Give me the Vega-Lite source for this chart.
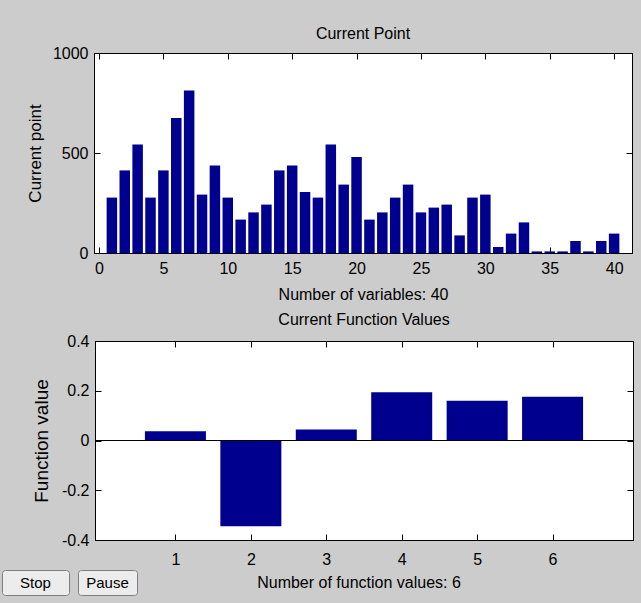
{
  "$schema": "https://vega.github.io/schema/vega-lite/v6.json",
  "background": "#cccccc",
  "padding": {"left": 1, "top": 25, "right": 9, "bottom": 8},
  "spacing": 8,
  "config": {
    "view": {"fill": "white", "stroke": "black", "strokeWidth": 1},
    "axis": {
      "domainColor": "black", "tickColor": "black", "labelColor": "black", "titleColor": "black",
      "labelFont": "Liberation Sans", "labelFontSize": 16,
      "titleFont": "Liberation Sans", "titleFontSize": 16, "titleFontWeight": "normal",
      "grid": false, "tickSize": -6, "labelPadding": 12, "labelFlush": false, "labelOverlap": false
    },
    "title": {"font": "Liberation Sans", "fontSize": 16, "fontWeight": "normal", "color": "black", "offset": 3},
    "text": {"font": "Liberation Sans", "fontSize": 16, "color": "black"}
  },
  "vconcat": [
    {
      "spacing": 0,
      "hconcat": [
        {
          "width": 23, "height": 10,
          "data": {"values": [{"t": ""}]},
          "mark": {"type": "text"},
          "encoding": {"text": {"field": "t"}},
          "view": {"fill": null, "stroke": null}
        },
        {
          "width": 538, "height": 200,
          "title": "Current Point",
          "data": {"values": [
            {"i": 1, "v": 277}, {"i": 2, "v": 413}, {"i": 3, "v": 543}, {"i": 4, "v": 277},
            {"i": 5, "v": 413}, {"i": 6, "v": 675}, {"i": 7, "v": 812}, {"i": 8, "v": 292},
            {"i": 9, "v": 437}, {"i": 10, "v": 277}, {"i": 11, "v": 167}, {"i": 12, "v": 203},
            {"i": 13, "v": 242}, {"i": 14, "v": 413}, {"i": 15, "v": 437}, {"i": 16, "v": 305},
            {"i": 17, "v": 277}, {"i": 18, "v": 543}, {"i": 19, "v": 342}, {"i": 20, "v": 480},
            {"i": 21, "v": 167}, {"i": 22, "v": 203}, {"i": 23, "v": 277}, {"i": 24, "v": 342},
            {"i": 25, "v": 203}, {"i": 26, "v": 227}, {"i": 27, "v": 242}, {"i": 28, "v": 88},
            {"i": 29, "v": 277}, {"i": 30, "v": 292}, {"i": 31, "v": 30}, {"i": 32, "v": 97},
            {"i": 33, "v": 153}, {"i": 34, "v": 8}, {"i": 35, "v": 8}, {"i": 36, "v": 8},
            {"i": 37, "v": 60}, {"i": 38, "v": 8}, {"i": 39, "v": 60}, {"i": 40, "v": 97}
          ]},
          "layer": [
            {
              "mark": {"type": "bar", "color": "#00008f", "size": 10.5},
              "encoding": {
                "x": {"field": "i", "type": "quantitative", "scale": {"domain": [0, 41], "nice": false, "zero": false},
                      "axis": {"values": [0, 5, 10, 15, 20, 25, 30, 35, 40], "title": "Number of variables: 40", "titlePadding": 10, "labelPadding": 13}},
                "y": {"field": "v", "type": "quantitative", "scale": {"domain": [0, 1000], "nice": false},
                      "axis": {"values": [0, 500, 1000], "labelExpr": "datum.value + ''", "title": "Current point", "titleFontSize": 17, "titlePadding": 8}}
              }
            },
            {
              "mark": {"type": "bar", "opacity": 0, "size": 10.5},
              "encoding": {
                "x": {"field": "i", "type": "quantitative", "scale": {"domain": [0, 41], "nice": false, "zero": false},
                      "axis": {"orient": "top", "values": [0, 5, 10, 15, 20, 25, 30, 35, 40], "labels": false, "title": null}},
                "y": {"field": "v", "type": "quantitative", "scale": {"domain": [0, 1000], "nice": false},
                      "axis": {"orient": "right", "values": [0, 500, 1000], "labels": false, "title": null}}
              }
            }
          ],
          "resolve": {"axis": {"x": "independent", "y": "independent"}}
        }
      ]
    },
    {
      "spacing": 1,
      "vconcat": [
        {
          "spacing": 0,
          "hconcat": [
            {
              "width": 29, "height": 10,
              "data": {"values": [{"t": ""}]},
              "mark": {"type": "text"},
              "encoding": {"text": {"field": "t"}},
              "view": {"fill": null, "stroke": null}
            },
            {
              "width": 538, "height": 199,
              "title": {"text": "Current Function Values", "offset": 5},
              "data": {"values": [
                {"k": 1, "f": 0.037}, {"k": 2, "f": -0.345}, {"k": 3, "f": 0.044},
                {"k": 4, "f": 0.194}, {"k": 5, "f": 0.160}, {"k": 6, "f": 0.176}
              ]},
              "layer": [
                {
                  "mark": {"type": "bar", "color": "#00008f", "size": 61},
                  "encoding": {
                    "x": {"field": "k", "type": "quantitative", "scale": {"domain": [0, 7], "nice": false},
                          "axis": {"values": [1, 2, 3, 4, 5, 6], "title": null, "labelPadding": 17}},
                    "y": {"field": "f", "type": "quantitative", "scale": {"domain": [-0.4, 0.4], "nice": false},
                          "axis": {"values": [-0.4, -0.2, 0, 0.2, 0.4], "labelExpr": "datum.value + ''", "title": "Function value", "titleFontSize": 19, "titlePadding": 10}}
                  }
                },
                {
                  "mark": {"type": "bar", "opacity": 0, "size": 61},
                  "encoding": {
                    "x": {"field": "k", "type": "quantitative", "scale": {"domain": [0, 7], "nice": false},
                          "axis": {"orient": "top", "values": [1, 2, 3, 4, 5, 6], "labels": false, "title": null}},
                    "y": {"field": "f", "type": "quantitative", "scale": {"domain": [-0.4, 0.4], "nice": false},
                          "axis": {"orient": "right", "values": [-0.4, -0.2, 0, 0.2, 0.4], "labels": false, "title": null}}
                  }
                },
                {
                  "mark": {"type": "rule", "color": "black", "strokeWidth": 1},
                  "encoding": {"y": {"datum": 0, "type": "quantitative", "axis": null}}
                }
              ],
              "resolve": {"axis": {"x": "independent", "y": "independent"}}
            }
          ]
        },
        {
          "spacing": 7,
          "hconcat": [
            {
              "width": 67, "height": 25,
              "data": {"values": [{"label": "Stop"}]},
              "mark": {"type": "text", "fontSize": 15},
              "encoding": {"text": {"field": "label"}},
              "view": {"fill": "#ececec", "stroke": "#7f7f7f", "cornerRadius": 3}
            },
            {
              "width": 59, "height": 25,
              "data": {"values": [{"label": "Pause"}]},
              "mark": {"type": "text", "fontSize": 15},
              "encoding": {"text": {"field": "label"}},
              "view": {"fill": "#ececec", "stroke": "#7f7f7f", "cornerRadius": 3}
            },
            {
              "width": 428, "height": 25,
              "data": {"values": [{"label": "Number of function values: 6"}]},
              "mark": {"type": "text"},
              "encoding": {"text": {"field": "label"}},
              "view": {"fill": null, "stroke": null}
            }
          ]
        }
      ]
    }
  ]
}
